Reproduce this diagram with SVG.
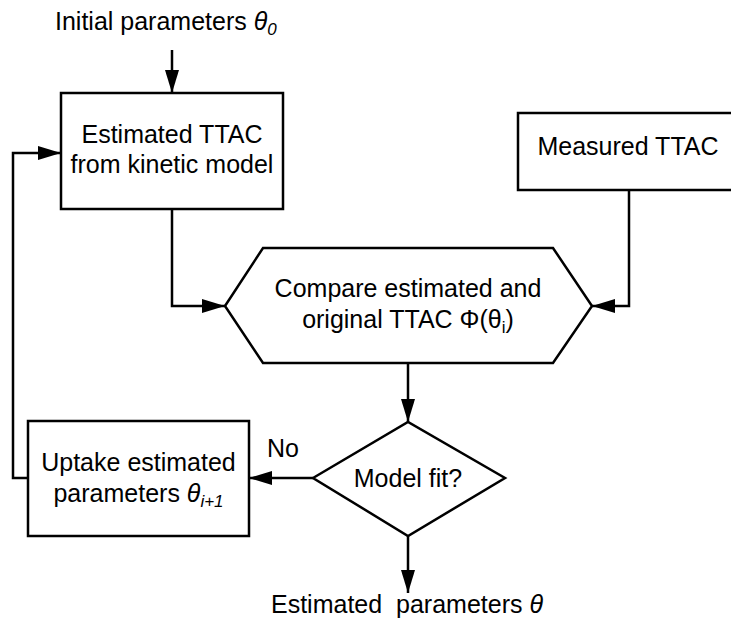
<svg xmlns="http://www.w3.org/2000/svg" width="731" height="624" viewBox="0 0 731 624">
<style>
text { font-family: "Liberation Sans", Arial, sans-serif; font-size: 25px; fill: #000; }
.c { text-anchor: middle; }
.shape { fill: #fff; stroke: #000; stroke-width: 2.5; }
.conn { fill: none; stroke: #000; stroke-width: 2.5; }
.it { font-style: italic; }
.sub { font-size: 17px; }
</style>
<defs>
<marker id="arr" markerUnits="userSpaceOnUse" markerWidth="24" markerHeight="16" refX="23" refY="7" orient="auto">
<path d="M0,0 L23,7 L0,14 Z" fill="#000"/>
</marker>
</defs>
<rect x="0" y="0" width="731" height="624" fill="#fff"/>
<g id="connectors">
<path class="conn" d="M172,50 V93" marker-end="url(#arr)"/>
<path class="conn" d="M172,209 V306 H225" marker-end="url(#arr)"/>
<path class="conn" d="M629,190 V306 H592" marker-end="url(#arr)"/>
<path class="conn" d="M408,363 V422" marker-end="url(#arr)"/>
<path class="conn" d="M313,478 H249" marker-end="url(#arr)"/>
<path class="conn" d="M28,478 H13 V153 H61" marker-end="url(#arr)"/>
<path class="conn" d="M408,536 V593" marker-end="url(#arr)"/>
</g>
<g id="input-label">
<text x="55" y="30">Initial parameters <tspan class="it">θ</tspan><tspan class="it sub" dy="5">0</tspan></text>
</g>
<g id="estimated">
<rect class="shape" x="61" y="93" width="222" height="116"/>
<text class="c" x="172" y="143">Estimated TTAC</text>
<text class="c" x="172" y="173">from kinetic model</text>
</g>
<g id="measured">
<rect class="shape" x="518" y="113" width="216" height="77"/>
<text class="c" x="628" y="155">Measured TTAC</text>
</g>
<g id="compare">
<polygon class="shape" points="225,306 263,248 553,248 592,306 553,363 263,363"/>
<text class="c" x="408" y="297">Compare estimated and</text>
<text class="c" x="408" y="328">original TTAC Φ(θ<tspan class="sub" dy="5">i</tspan><tspan dy="-5">)</tspan></text>
</g>
<g id="decision">
<polygon class="shape" points="313,478 408,422 505,478 408,536"/>
<text class="c" x="408" y="487">Model fit?</text>
</g>
<g id="no-label">
<text x="267" y="457">No</text>
</g>
<g id="uptake">
<rect class="shape" x="28" y="421" width="221" height="115"/>
<text class="c" x="138.5" y="471">Uptake estimated</text>
<text class="c" x="138.5" y="502">parameters <tspan class="it">θ</tspan><tspan class="it sub" dy="5">i+1</tspan></text>
</g>
<g id="output-label">
<text x="271" y="613">Estimated&#160; parameters <tspan class="it">θ</tspan></text>
</g>
</svg>
